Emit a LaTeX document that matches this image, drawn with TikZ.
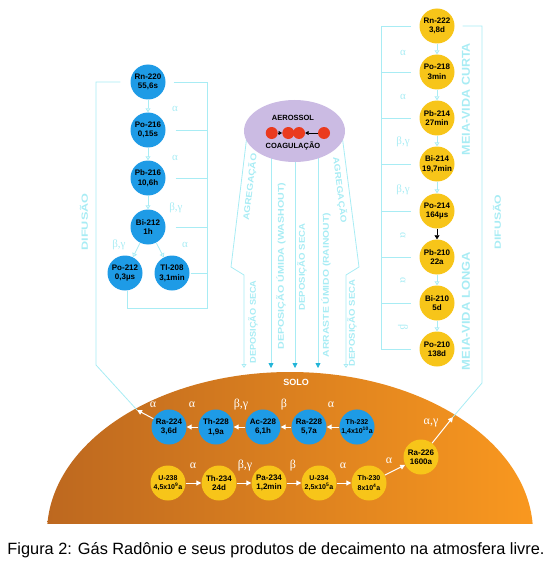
\documentclass[tikz,border=0pt]{standalone}
\usepackage{fontspec}
\setmainfont{Liberation Sans}
\newfontfamily\grk{Liberation Serif}
\usetikzlibrary{arrows.meta,backgrounds,shapes.geometric}
\definecolor{nblue}{HTML}{1E9BE6}
\definecolor{nyel}{HTML}{F7C519}
\definecolor{lcyan}{HTML}{A8ECF4}
\definecolor{dcyan}{HTML}{22B4D8}
\definecolor{lav}{HTML}{CBBBE3}
\definecolor{rred}{HTML}{EA3A1E}
\definecolor{orL}{HTML}{BD681F}
\definecolor{orR}{HTML}{F9981F}
\newcommand\vtxt[3]{\resizebox{#1pt}{#2pt}{\bfseries #3}}
\tikzset{
  nuc/.style={circle, minimum size=35pt, inner sep=0pt, align=center, text=black,
    font=\fontsize{8}{9.5}\selectfont\bfseries},
  bnuc/.style={nuc, fill=nblue},
  ynuc/.style={nuc, fill=nyel},
  cline/.style={draw=lcyan, line width=0.8pt},
  carr/.style={cline, -{Triangle[open,length=4pt,width=5pt]}},
  warr/.style={draw=white, line width=1pt, -{Triangle[length=5pt,width=5pt]}},
  clab/.style={text=lcyan, font=\grk\fontsize{11}{11}\selectfont, inner sep=0pt},
  wlab/.style={text=white, font=\grk\fontsize{12}{12}\selectfont, inner sep=0pt},
  vtx/.style={text=lcyan, inner sep=0pt},
  rc/.style={circle, fill=rred, minimum size=12pt, inner sep=0pt},
}
\begin{document}
\begin{tikzpicture}[x=1pt,y=-1pt]
\useasboundingbox (0,0) rectangle (550,567);
% ground
\begin{scope}
\clip (0,0) rectangle (550,523);
\shade[left color=orL, right color=orR] (290,533) ellipse [x radius=243, y radius=161];
\end{scope}
\node[text=white, font=\fontsize{9}{9}\selectfont\bfseries] (solo) at (296,382) {SOLO};

% ===== left column (Th chain in air)
\node[bnuc] (rn220) at (148,82) {Rn-220\\55,6s};
\node[bnuc] (po216) at (148,130) {Po-216\\0,15s};
\node[bnuc] (pb216) at (148,178) {Pb-216\\10,6h};
\node[bnuc] (bi212) at (148,227) {Bi-212\\1h};
\node[bnuc] (po212) at (125,273) {Po-212\\0,3µs};
\node[bnuc] (tl208) at (172,273) {Tl-208\\3,1min};
\draw[carr] (rn220) -- (po216);
\draw[carr] (po216) -- (pb216);
\draw[carr] (pb216) -- (bi212);
\draw[carr] (bi212) -- (po212);
\draw[carr] (bi212) -- (tl208);
\node[clab] (la1) at (175,109) {α};
\node[clab] (la2) at (175,158) {α};
\node[clab] (la3) at (176,208) {β,γ};
\node[clab] (la4) at (119,245) {β,γ};
\node[clab] (la5) at (185,245) {α};
\coordinate (LB) at (207,82);
\draw[cline] ([xshift=8pt]rn220.east) -- (LB) -- (207,308) -- (127,308) -- ([xshift=2pt]po212.south);
\draw[cline] ([xshift=10pt]po216.east) -- (po216.east -| LB);
\draw[cline] ([xshift=10pt]pb216.east) -- (pb216.east -| LB);
\draw[cline] ([xshift=10pt]bi212.east) -- (bi212.east -| LB);
\draw[cline] ([xshift=1pt]tl208.east) -- (tl208.east -| LB);
\node[vtx, rotate=90] (dif1) at (84,222) {\vtxt{57}{8}{DIFUSÃO}};

% ===== right column (U chain in air)
\node[ynuc] (rn222) at (437,26) {Rn-222\\3,8d};
\node[ynuc] (po218) at (437,72) {Po-218\\3min};
\node[ynuc] (pb214) at (437,118) {Pb-214\\27min};
\node[ynuc] (bi214) at (437,164) {Bi-214\\19,7min};
\node[ynuc] (po214) at (437,211) {Po-214\\164µs};
\node[ynuc] (pb210) at (437,257) {Pb-210\\22a};
\node[ynuc] (bi210) at (437,303) {Bi-210\\5d};
\node[ynuc] (po210) at (437,349) {Po-210\\138d};
\draw[carr] (rn222) -- (po218);
\draw[carr] (po218) -- (pb214);
\draw[carr] (pb214) -- (bi214);
\draw[carr] (bi214) -- (po214);
\draw[black, line width=0.6pt, -{Triangle[length=4pt,width=5pt]}] (po214) -- (pb210);
\draw[carr] (pb210) -- (bi210);
\draw[carr] (bi210) -- (po210);
\node[clab] (ra1) at (403,53) {α};
\node[clab] (ra2) at (403,97) {α};
\node[clab] (ra3) at (403,142) {β,γ};
\node[clab] (ra4) at (403,190) {β,γ};
\node[clab, rotate=-90] (ra5) at (403,235) {α};
\node[clab, rotate=-90] (ra6) at (403,280) {α};
\node[clab, rotate=-90] (ra7) at (403,327) {β};
\coordinate (RB) at (381,26);
\draw[cline] (RB) -- (381,349);
\foreach \n in {rn222,po218,pb214,bi214,po214,pb210,bi210,po210}
  \draw[cline] (\n.west -| RB) -- ([xshift=-8pt]\n.west);
\node[vtx, rotate=90] (mvc) at (466,99) {\vtxt{112}{8}{MEIA-VIDA CURTA}};
\node[vtx, rotate=90] (mvl) at (466,311) {\vtxt{118}{8}{MEIA-VIDA LONGA}};
\node[vtx, rotate=90] (dif2) at (497,222) {\vtxt{55}{8}{DIFUSÃO}};

% ===== aerosol
\node[ellipse, fill=lav, minimum width=101pt, minimum height=62pt, inner sep=0pt] (aer) at (294.5,131) {};
\node[font=\fontsize{7.5}{7.5}\selectfont\bfseries] (aert) at (293,118) {AEROSSOL};
\node[font=\fontsize{7.5}{7.5}\selectfont\bfseries] (coag) at (293,146) {COAGULAÇÃO};
\node[rc] (c1) at (271.7,133) {};
\node[rc] (c2) at (288.3,133) {};
\node[rc] (c3) at (299,133) {};
\node[rc] (c4) at (324,133) {};
\draw[black, line width=0.6pt, -{Triangle[length=3.5pt,width=4pt]}] (c1) -- (c2);
\draw[black, line width=0.6pt, -{Triangle[length=3.5pt,width=4pt]}] (c4) -- (c3);

\coordinate (M0) at (244,368);
\coordinate (M1) at (271,368);
\coordinate (M2) at (295,368);
\coordinate (M3) at (318,368);
\coordinate (M4) at (346,368);
\begin{scope}[on background layer]
\draw[carr] (247.5,131) -- (231,267) -- (244,275) -- (M0);
\draw[carr] (341.5,131) -- (359,267) -- (346,275) -- (M4);
\draw[cline, -{Triangle[length=5pt,width=5pt,color=dcyan]}] (aer.center -| M1) -- (M1);
\draw[cline, -{Triangle[length=5pt,width=5pt,color=dcyan]}] (aer.center -| M2) -- (M2);
\draw[cline, -{Triangle[length=5pt,width=5pt,color=dcyan]}] (aer.center -| M3) -- (M3);
\end{scope}
\node[vtx, rotate=83] (t1) at (250,187) {\vtxt{67}{7.5}{AGREGAÇÃO}};
\node[vtx, rotate=90] (t2) at (253,322) {\vtxt{83}{7.5}{DEPOSIÇÃO SECA}};
\node[vtx, rotate=90] (t3) at (281,266) {\vtxt{167}{7.5}{DEPOSIÇÃO ÚMIDA (WASHOUT)}};
\node[vtx, rotate=90] (t4) at (302,267) {\vtxt{87}{7.5}{DEPOSIÇÃO SECA}};
\node[vtx, rotate=90] (t5) at (326,285) {\vtxt{144}{7.5}{ARRASTE ÚMIDO (RAINOUT)}};
\node[vtx, rotate=-83] (t6) at (340,190) {\vtxt{66}{7.5}{AGREGAÇÃO}};
\node[vtx, rotate=90] (t7) at (352,323) {\vtxt{87}{7.5}{DEPOSIÇÃO SECA}};

% ===== blue row in ground
\node[bnuc] (ra224) at (169,427) {Ra-224\\3,6d};
\node[bnuc] (th228) at (216,427) {Th-228\\1,9a};
\node[bnuc] (ac228) at (263,427) {Ac-228\\6,1h};
\node[bnuc] (ra228) at (309,427) {Ra-228\\5,7a};
\node[bnuc, font=\fontsize{7}{9.5}\selectfont\bfseries] (th232) at (357,427) {Th-232\\1,4x10\textsuperscript{10}a};
\draw[warr] (th232) -- (ra228);
\draw[warr] (ra228) -- (ac228);
\draw[warr] (ac228) -- (th228);
\draw[warr] (th228) -- (ra224);
\node[wlab] (ga1) at (153,405) {α};
\node[wlab] (ga2) at (192,405) {α};
\node[wlab] (ga3) at (241,405) {β,γ};
\node[wlab] (ga4) at (284,405) {β};
\node[wlab] (ga5) at (331,405) {α};
\coordinate (G1) at (137,410);
\draw[warr] (ra224) -- (G1);
\draw[cline] (G1) -- (96,365) -- (96,82) -- ([xshift=-10pt]rn220.west);

% ===== yellow row in ground
\node[ynuc, font=\fontsize{7}{9.5}\selectfont\bfseries] (u238) at (168,483) {U-238\\4,5x10\textsuperscript{9}a};
\node[ynuc] (th234) at (219,483) {Th-234\\24d};
\node[ynuc] (pa234) at (269,483) {Pa-234\\1,2min};
\node[ynuc, font=\fontsize{7}{9.5}\selectfont\bfseries] (u234) at (319,483) {U-234\\2,5x10\textsuperscript{5}a};
\node[ynuc, font=\fontsize{7}{9.5}\selectfont\bfseries] (th230) at (369,483) {Th-230\\8x10\textsuperscript{4}a};
\node[ynuc] (ra226) at (421,457) {Ra-226\\1600a};
\draw[warr] (u238) -- (th234);
\draw[warr] (th234) -- (pa234);
\draw[warr] (pa234) -- (u234);
\draw[warr] (u234) -- (th230);
\draw[warr] (th230) -- (ra226);
\node[wlab] (ya1) at (193,466) {α};
\node[wlab] (ya2) at (245,466) {β,γ};
\node[wlab] (ya3) at (293,466) {β};
\node[wlab] (ya4) at (343,466) {α};
\node[wlab] (ya5) at (389,461) {α};
\node[wlab] (ya6) at (431,423) {α,γ};
\coordinate (G2) at (453,417);
\draw[warr] (ra226) -- (G2);
\draw[cline] (G2) -- (482,383) -- (482,26) -- ([xshift=8pt]rn222.east);

% ===== caption
\node[inner sep=0pt, font=\fontsize{15}{17}\selectfont] (cap) at (276,550)
  {\resizebox{537pt}{!}{Figura 2: Gás Radônio e seus produtos de decaimento na atmosfera livre.}};
\end{tikzpicture}
\end{document}
